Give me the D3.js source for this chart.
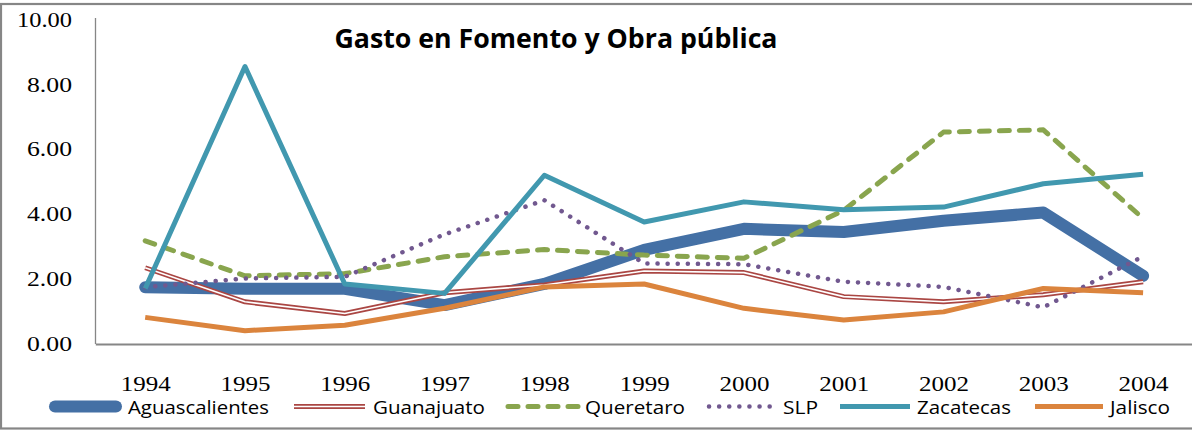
<!DOCTYPE html>
<html>
<head>
<meta charset="utf-8">
<script src="https://cdn.jsdelivr.net/npm/d3@7"></script>
<style>
html,body{margin:0;padding:0;background:#fff;}
svg{display:block;}
</style>
</head>
<body>
<svg id="chart" width="1192" height="430"></svg>
<script>
const years = ["1994","1995","1996","1997","1998","1999","2000","2001","2002","2003","2004"];
const yTicks = [0, 2, 4, 6, 8, 10];
const seriesNames = ["Aguascalientes","Guanajuato","Queretaro","SLP","Zacatecas","Jalisco"];
const aguascalientes = [1.75, 1.70, 1.70, 1.20, 1.85, 2.90, 3.55, 3.45, 3.80, 4.05, 2.10];
const guanajuato     = [2.35, 1.30, 0.94, 1.58, 1.82, 2.25, 2.20, 1.46, 1.30, 1.52, 1.92];
const queretaro      = [3.18, 2.10, 2.17, 2.69, 2.91, 2.74, 2.64, 4.12, 6.53, 6.60, 3.87];
const slp            = [1.75, 2.02, 2.07, 3.38, 4.43, 2.48, 2.46, 1.92, 1.76, 1.13, 2.70];
const zacatecas      = [1.71, 8.55, 1.85, 1.56, 5.20, 3.76, 4.38, 4.14, 4.22, 4.94, 5.23];
const jalisco        = [0.82, 0.41, 0.58, 1.10, 1.76, 1.85, 1.10, 0.74, 0.99, 1.71, 1.58];
const seriesValues = [aguascalientes, guanajuato, queretaro, slp, zacatecas, jalisco];

const styles = {
  "Aguascalientes": {color:"#4470A5", width:12, dash:null, cap:"round"},
  "Guanajuato":     {color:"#AA4643", width:5, dash:null, cap:"butt", inner:true},
  "Queretaro":      {color:"#89A54E", width:5, dash:"10,10", cap:"round"},
  "SLP":            {color:"#71588F", width:4.5, dash:"0.1,10", cap:"round"},
  "Zacatecas":      {color:"#4198AF", width:5, dash:null, cap:"butt"},
  "Jalisco":        {color:"#DB843D", width:5, dash:null, cap:"butt"}
};

const svg = d3.select("#chart");

// outer border
svg.append("rect").attr("x",1).attr("y",4).attr("width",1210).attr("height",424.5)
  .attr("fill","#fff").attr("stroke","#868686").attr("stroke-width",2.2);

const x = d3.scalePoint().domain(years).range([95.3, 1193]).padding(0.5);
const y = d3.scaleLinear().domain([0,10]).range([344, 19.5]);

// y axis line
svg.append("line").attr("x1",95.5).attr("x2",95.5).attr("y1",18).attr("y2",344)
  .attr("stroke","#868686").attr("stroke-width",1.3);

// y axis labels
const yAxis = d3.axisLeft(y).tickValues(yTicks).tickFormat(d3.format(".2f")).tickSize(0).tickPadding(0);
const gy = svg.append("g").attr("transform","translate(72,0)").call(yAxis);
gy.select(".domain").remove();
gy.selectAll("text")
  .attr("font-family","'Liberation Serif', 'Times New Roman', serif")
  .attr("font-size",20).attr("fill","#000").attr("dy","0.33em")
  .attr("textLength", d => d >= 10 ? 55 : 45)
  .attr("lengthAdjust","spacingAndGlyphs");

// x axis
const xAxis = d3.axisBottom(x).tickSize(0).tickPadding(0);
const gx = svg.append("g").attr("transform","translate(0,344)").call(xAxis);
gx.select(".domain").attr("stroke","#868686").attr("stroke-width",2.2);
gx.selectAll("text")
  .attr("font-family","'Liberation Serif', 'Times New Roman', serif")
  .attr("font-size",21).attr("fill","#000").attr("dy",0).attr("y",46.5)
  .attr("textLength",50).attr("lengthAdjust","spacingAndGlyphs");

// lines
const line = d3.line().x((d,i)=>x(years[i])).y(d=>y(d));
seriesNames.forEach((name, si) => {
  const s = styles[name];
  const p = svg.append("path").datum(seriesValues[si]).attr("d", line)
    .attr("fill","none").attr("stroke", s.color).attr("stroke-width", s.width)
    .attr("stroke-linecap", s.cap).attr("stroke-linejoin","round");
  if (s.dash) p.attr("stroke-dasharray", s.dash);
  if (s.inner) {
    svg.append("path").datum(seriesValues[si]).attr("d", line)
      .attr("fill","none").attr("stroke","#fff").attr("stroke-width",1.6)
      .attr("stroke-linejoin","round");
  }
});

// title
svg.append("text").attr("x",556).attr("y",48).attr("text-anchor","middle")
  .attr("font-family","'Open Sans', 'Noto Sans', sans-serif").attr("font-weight",700)
  .attr("font-size",26).attr("fill","#000")
  .attr("textLength",443).attr("lengthAdjust","spacingAndGlyphs")
  .text("Gasto en Fomento y Obra pública");

// legend
const legendLines = [[49,122],[294,365],[508,580],[709,773],[840,910],[1035,1103]];
const legendText = [[128,141],[373,112],[585,100],[783,35],[917,94],[1110,60]];
const ly = 406.5;
seriesNames.forEach((name, i) => {
  const s = styles[name];
  const g = svg.append("g");
  const l = g.append("line").attr("x1",legendLines[i][0]).attr("x2",legendLines[i][1])
    .attr("y1",ly).attr("y2",ly).attr("stroke",s.color).attr("stroke-width",s.width)
    .attr("stroke-linecap", s.cap === "round" ? "round" : "butt");
  if (name === "Aguascalientes") l.attr("x1",legendLines[i][0]+6).attr("x2",legendLines[i][1]-6);
  if (s.dash) l.attr("stroke-dasharray", s.dash);
  if (s.inner) {
    g.append("line").attr("x1",legendLines[i][0]).attr("x2",legendLines[i][1])
      .attr("y1",ly).attr("y2",ly).attr("stroke","#fff").attr("stroke-width",1.6);
  }
  g.append("text").attr("x",legendText[i][0]).attr("y",413.5)
    .attr("font-family","'Open Sans', 'Noto Sans', sans-serif").attr("font-size",19)
    .attr("fill","#000").attr("textLength",legendText[i][1]).attr("lengthAdjust","spacingAndGlyphs")
    .text(name);
});
</script>
</body>
</html>
